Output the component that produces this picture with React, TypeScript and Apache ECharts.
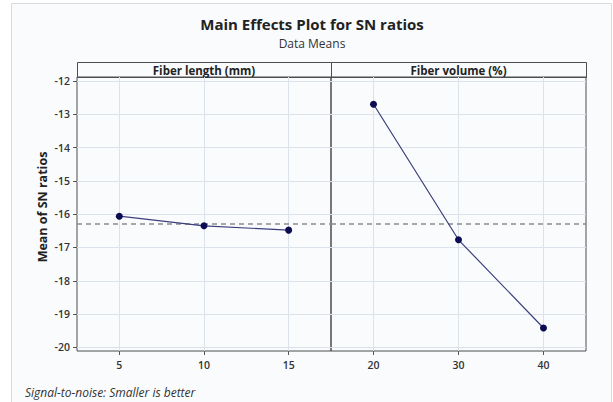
import React, { useEffect, useRef } from "react";
import * as echarts from "echarts";

const fiberLengthCats = ["5", "10", "15"];
const fiberLengthMeans = [-16.06, -16.35, -16.48];
const fiberVolumeCats = ["20", "30", "40"];
const fiberVolumeMeans = [-12.7, -16.77, -19.42];
const overallMean = -16.3;
const yTicks = [-20, -19, -18, -17, -16, -15, -14, -13, -12];
const panelTitles = ["Fiber length (mm)", "Fiber volume (%)"];

const FONT = "'Open Sans', 'Noto Sans', sans-serif";
const GRID_TOP = 77;
const GRID_BOTTOM = 351;
const PANELS = [
  { left: 77, width: 254 },
  { left: 331, width: 255 },
];

export default function App() {
  const ref = useRef<HTMLDivElement>(null);
  useEffect(() => {
    if (!ref.current) return;
    const chart = echarts.init(ref.current, null, { renderer: "svg" });

    const gridLineMarks = (cats: string[]) => ({
      silent: true,
      symbol: ["none", "none"],
      label: { show: false },
      lineStyle: { color: "#dce2ea", type: "solid", width: 1 },
      emphasis: { disabled: true },
      data: [
        ...yTicks.map((v) => ({ yAxis: v })),
        ...cats.map((c) => ({ xAxis: c })),
      ],
    });

    const meanMark = {
      silent: true,
      symbol: ["none", "none"],
      label: { show: false },
      lineStyle: { color: "#8c8c8c", type: [5, 4], width: 1.5 },
      emphasis: { disabled: true },
      data: [{ yAxis: overallMean }],
    };

    const catsList = [fiberLengthCats, fiberVolumeCats];
    const valsList = [fiberLengthMeans, fiberVolumeMeans];

    const option: any = {
      animation: false,
      backgroundColor: "transparent",
      grid: PANELS.map((p) => ({
        left: p.left,
        width: p.width,
        top: GRID_TOP,
        height: GRID_BOTTOM - GRID_TOP,
        show: true,
        borderColor: "#4d4d4d",
        borderWidth: 1,
        backgroundColor: "transparent",
        containLabel: false,
      })),
      xAxis: catsList.map((cats, i) => ({
        type: "category",
        gridIndex: i,
        data: cats,
        boundaryGap: true,
        axisLine: { show: false },
        axisTick: { show: true, alignWithLabel: true, length: 4, lineStyle: { color: "#555" } },
        axisLabel: { color: "#333", fontSize: 10.5, fontWeight: 600, fontFamily: FONT, margin: 8 },
        splitLine: { show: false },
      })),
      yAxis: catsList.map((_, i) => ({
        type: "value",
        gridIndex: i,
        min: -20.11,
        max: -11.88,
        axisLine: { show: false },
        axisTick: {
          show: i === 0,
          length: 4,
          lineStyle: { color: "#555" },
          customValues: yTicks,
        },
        axisLabel: {
          show: i === 0,
          color: "#333",
          fontSize: 10.5,
          fontWeight: 600,
          fontFamily: FONT,
          margin: 7,
          customValues: yTicks,
        },
        splitLine: { show: false },
      })),
      series: [
        ...catsList.map((cats, i) => ({
          type: "line",
          xAxisIndex: i,
          yAxisIndex: i,
          data: [],
          z: 1,
          markLine: gridLineMarks(cats),
        })),
        ...catsList.map((_, i) => ({
          type: "line",
          xAxisIndex: i,
          yAxisIndex: i,
          data: [],
          z: 2,
          markLine: meanMark,
        })),
        ...valsList.map((vals, i) => ({
          type: "line",
          xAxisIndex: i,
          yAxisIndex: i,
          data: vals,
          z: 5,
          symbol: "circle",
          symbolSize: 7,
          itemStyle: { color: "#0c0c52" },
          lineStyle: { color: "#3b3f7c", width: 1.2 },
          emphasis: { disabled: true },
        })),
      ],
      graphic: [
        {
          type: "rect",
          z: -10,
          silent: true,
          shape: { x: 11.5, y: 3.5, width: 600, height: 420 },
          style: { fill: "#f9fbfd", stroke: "#d6dbe0", lineWidth: 1 },
        },
        {
          type: "text",
          x: 312,
          y: 24,
          style: {
            text: "Main Effects Plot for SN ratios",
            font: `bold 15px ${FONT}`,
            fill: "#222",
            textAlign: "center",
            textVerticalAlign: "middle",
          },
        },
        {
          type: "text",
          x: 312,
          y: 43,
          style: {
            text: "Data Means",
            font: `12px ${FONT}`,
            fill: "#333",
            textAlign: "center",
            textVerticalAlign: "middle",
          },
        },
        ...PANELS.map((p) => ({
          type: "rect",
          silent: true,
          shape: { x: p.left + 0.5, y: 62.5, width: p.width, height: GRID_TOP - 62 },
          style: { fill: "transparent", stroke: "#4d4d4d", lineWidth: 1 },
        })),
        ...PANELS.map((p, i) => ({
          type: "text",
          x: p.left + p.width / 2,
          y: 70,
          style: {
            text: panelTitles[i],
            font: `bold 11.5px ${FONT}`,
            fill: "#222",
            textAlign: "center",
            textVerticalAlign: "middle",
          },
        })),
        {
          type: "text",
          x: 42,
          y: 207,
          rotation: Math.PI / 2,
          style: {
            text: "Mean of SN ratios",
            font: `bold 12.5px ${FONT}`,
            fill: "#222",
            textAlign: "center",
            textVerticalAlign: "middle",
          },
        },
        {
          type: "text",
          x: 25,
          y: 392,
          style: {
            text: "Signal-to-noise: Smaller is better",
            font: `italic 12px ${FONT}`,
            fill: "#333",
            textAlign: "left",
            textVerticalAlign: "middle",
          },
        },
      ],
    };

    chart.setOption(option);
    return () => chart.dispose();
  }, []);

  return (
    <div
      ref={ref}
      style={{ position: "fixed", left: 0, top: 0, width: 613, height: 402, background: "#ffffff" }}
    />
  );
}
